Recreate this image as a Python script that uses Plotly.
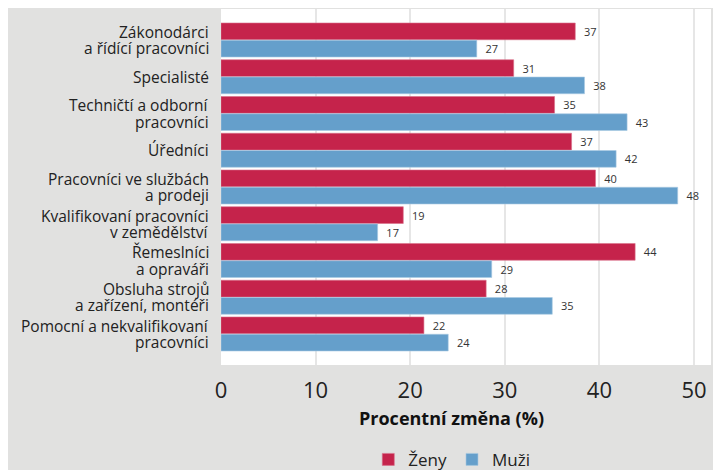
"""
Procentní změna podle hlavních tříd zaměstnání, ženy a muži.
"""

import plotly.graph_objects as go

# Categories (top to bottom); "|" marks a line break in the label
CATEGORIES = [
    "Zákonodárci|a řídící pracovníci",
    "Specialisté",
    "Techničtí a odborní|pracovníci",
    "Úředníci",
    "Pracovníci ve službách|a prodeji",
    "Kvalifikovaní pracovníci|v zemědělství",
    "Řemeslníci|a opraváři",
    "Obsluha strojů|a zařízení, montéři",
    "Pomocní a nekvalifikovaní|pracovníci",
]

# Bar lengths
ZENY = [37.45, 30.94, 35.26, 37.06, 39.59, 19.27, 43.78, 28.03, 21.45]
MUZI = [27.04, 38.43, 42.93, 41.77, 48.28, 16.56, 28.62, 35.02, 24.02]

# Data labels as printed
ZENY_LABELS = ["37", "31", "35", "37", "40", "19", "44", "28", "22"]
MUZI_LABELS = ["27", "38", "43", "42", "48", "17", "29", "35", "24"]

X_TICKS = [0, 10, 20, 30, 40, 50]

RED = "#C5234B"
BLUE = "#659FCB"
BG = "#E1E1E0"
FONT = "Open Sans"
LINE_H = 16.5  # px between label lines

fig = go.Figure()

fig.add_trace(
    go.Bar(
        y=CATEGORIES,
        x=ZENY,
        orientation="h",
        name="Ženy",
        marker=dict(color=RED, line=dict(color="#D9718A", width=0.6)),
        text=["  " + t for t in ZENY_LABELS],
        textposition="outside",
        textfont=dict(size=11, color="#333333", family=FONT),
        cliponaxis=False,
    )
)

fig.add_trace(
    go.Bar(
        y=CATEGORIES,
        x=MUZI,
        orientation="h",
        name="Muži",
        marker=dict(color=BLUE, line=dict(color="#A9C9E3", width=0.6)),
        text=["  " + t for t in MUZI_LABELS],
        textposition="outside",
        textfont=dict(size=11, color="#333333", family=FONT),
        cliponaxis=False,
    )
)

# category labels drawn line by line so the line spacing stays tight
annotations = []
for cat in CATEGORIES:
    lines = cat.split("|")
    n = len(lines)
    for i, line in enumerate(lines):
        annotations.append(
            dict(
                text=line,
                xref="paper",
                yref="y",
                x=0,
                y=cat,
                xanchor="right",
                yanchor="middle",
                xshift=-11,
                yshift=((n - 1) / 2 - i) * LINE_H,
                showarrow=False,
                borderpad=0,
                font=dict(size=15.5, color="#222222", family=FONT),
            )
        )

annotations.append(
    dict(
        text="<b>Procentní změna (%)</b>",
        xref="paper",
        yref="paper",
        x=0.471,
        y=-0.149,
        xanchor="center",
        yanchor="middle",
        showarrow=False,
        font=dict(size=18, color="#111111", family=FONT),
    )
)

# the page adds an 8px body margin, so the figure is 8px smaller than the window
fig.update_layout(
    width=713,
    height=462,
    margin=dict(l=213, r=10, t=1, b=105),
    paper_bgcolor=BG,
    plot_bgcolor="white",
    barmode="group",
    bargap=0.06,
    bargroupgap=0.03,
    font=dict(family=FONT, color="#222222"),
    showlegend=True,
    legend=dict(
        orientation="h",
        x=0.471,
        xanchor="center",
        xref="paper",
        y=0.022,
        yanchor="middle",
        yref="container",
        font=dict(size=17, color="#222222"),
        itemwidth=30,
        traceorder="normal",
    ),
    annotations=annotations,
)

fig.update_xaxes(
    range=[0, 51.8],
    tickvals=X_TICKS,
    tickfont=dict(size=22, color="#222222"),
    showgrid=True,
    gridcolor="#E6E6E6",
    gridwidth=1.5,
    zeroline=False,
    showline=False,
    ticks="outside",
    ticklen=6,
    tickcolor="rgba(0,0,0,0)",
    automargin=False,
)

fig.update_yaxes(
    type="category",
    range=[8.844, -0.844],
    showticklabels=False,
    showgrid=False,
    zeroline=False,
    showline=False,
    automargin=False,
)

fig.write_html("out.html")
